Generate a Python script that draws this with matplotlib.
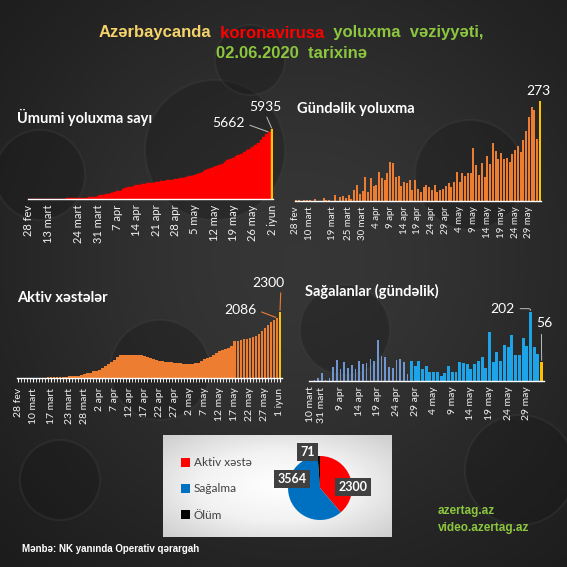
import numpy as np
import pandas as pd
import matplotlib
matplotlib.use('Agg')
from matplotlib import pyplot as plt
from matplotlib.patches import Circle
from matplotlib.colors import LinearSegmentedColormap

# günlər (dd.mm)
early_days = ['28.02', '01.03', '04.03', '05.03', '07.03', '10.03', '12.03']
days = early_days + list(pd.date_range('2020-03-13', '2020-06-02').strftime('%d.%m'))
active_days = days[:-1]
rec_days = ['10.03', '26.03', '29.03', '31.03', '02.04', '04.04', '06.04', '08.04'] + \
    list(pd.date_range('2020-04-09', '2020-06-02').strftime('%d.%m'))

total_cases = [1, 3, 3, 6, 9, 11, 11,
               15, 15, 15, 23, 25, 28, 28, 44, 44, 53, 65, 72, 87, 93, 122, 165, 182, 209, 273,
               298, 359, 400, 443, 521, 584, 641, 717, 822, 926, 991, 1058, 1098, 1148, 1197,
               1253, 1283, 1340, 1373, 1398, 1436, 1480, 1518, 1548, 1592, 1617, 1645, 1678, 1717, 1766,
               1804, 1854, 1932, 1984, 2060, 2127, 2204, 2279, 2422, 2519, 2589, 2693, 2758, 2879, 2980,
               3138, 3274, 3387, 3518, 3631, 3749, 3855, 3982, 4122, 4271, 4403, 4568, 4759, 4989, 5246, 5494,
               5662, 5935]

daily_cases = [1, 2, 0, 3, 3, 2, 0,
               4, 0, 0, 8, 2, 3, 0, 16, 0, 9, 12, 7, 15, 6, 29, 43, 17, 27, 64,
               25, 61, 41, 43, 78, 63, 57, 76, 105, 104, 65, 67, 40, 50, 49,
               56, 30, 57, 33, 25, 38, 44, 38, 30, 44, 25, 28, 33, 39, 49,
               38, 50, 78, 52, 76, 67, 77, 75, 143, 97, 70, 104, 65, 121, 101,
               158, 136, 113, 131, 113, 118, 106, 127, 140, 149, 132, 165, 191, 230, 257, 248,
               168, 273]

active_cases = [1, 3, 3, 6, 9, 11, 11,
                15, 15, 15, 22, 24, 26, 26, 41, 41, 49, 58, 64, 78, 83, 110, 150, 162, 185, 240,
                255, 290, 340, 400, 470, 560, 640, 720, 790, 805, 812, 815, 815, 812, 808,
                800, 760, 730, 700, 660, 620, 595, 585, 570, 555, 540, 525, 520, 510, 500,
                490, 485, 490, 505, 530, 580, 650, 700, 740, 790, 870, 940, 985, 1010, 1050,
                1120, 1290, 1300, 1320, 1345, 1370, 1395, 1430, 1470, 1540, 1640, 1750, 1840, 1930, 2010,
                2086, 2300]

recovered_daily = [1, 3, 8, 22, 3, 10, 40, 61,
                   35, 54, 39, 47, 35, 58, 50, 53, 64, 59, 119, 74, 71, 40, 38, 61, 64, 54, 19, 58,
                   44, 58, 35, 43, 25, 27, 26, 15, 22, 44, 26, 26, 54, 53, 49, 35, 49, 58, 69, 37,
                   143, 55, 84, 58, 104, 99, 134, 76, 76, 124, 102, 202, 99, 78, 56]

cum_ticks = ['28.02', '13.03', '24.03', '31.03', '07.04', '14.04', '21.04', '28.04',
             '05.05', '12.05', '19.05', '26.05', '02.06']
daily_ticks = ['28.02', '10.03', '19.03', '25.03', '30.03', '04.04', '09.04', '14.04', '19.04',
               '24.04', '29.04', '04.05', '09.05', '14.05', '19.05', '24.05', '29.05']
active_ticks = ['28.02', '10.03', '17.03', '23.03', '28.03', '02.04', '07.04', '12.04', '17.04',
                '22.04', '27.04', '02.05', '07.05', '12.05', '17.05', '22.05', '27.05', '01.06']
rec_ticks = ['10.03', '31.03', '09.04', '14.04', '19.04', '24.04', '29.04', '04.05', '09.05',
             '14.05', '19.05', '24.05', '29.05']
months = {'02': 'fev', '03': 'mart', '04': 'apr', '05': 'may', '06': 'iyun'}

pie_labels = ['Aktiv xəstə', 'Sağalma', 'Ölüm']
pie_values = [2300, 3564, 71]

RED = '#ff0000'
ORANGE = '#ed7d31'
GOLD = '#ffc000'
BLUE = '#0070c0'
TXT = '#f2f2f2'
GREEN = '#8cc63f'

W = H = 567
fig = plt.figure(figsize=(5.67, 5.67), dpi=100)
fig.patch.set_facecolor('#2b2b2b')


def px_axes(left, top, right, bottom):
    return fig.add_axes([left / W, 1 - bottom / H, (right - left) / W, (bottom - top) / H])


# fon
bg = px_axes(0, 0, W, H)
bg.set_xlim(0, W)
bg.set_ylim(H, 0)
bg.axis('off')
yy, xx = np.mgrid[0:H:3, 0:W:3]
glow = np.exp(-((xx - 300) ** 2 + (yy - 260) ** 2) / (2 * 260.0 ** 2))
bg_cmap = LinearSegmentedColormap.from_list('bg', ['#1c1c1c', '#363636'])
bg.imshow(glow, cmap=bg_cmap, extent=(0, W, H, 0), aspect='auto')
for cx, cy, r in [(40, 175, 45), (215, 150, 70), (470, 175, 55), (160, 370, 50),
                  (345, 330, 45), (60, 480, 40), (520, 470, 55), (250, 60, 35)]:
    bg.add_patch(Circle((cx, cy), r, fc='#151515', ec='#444444', lw=1.5, alpha=0.3))


def style_axes(ax, day_list, ticks, size):
    ax.set_facecolor('none')
    for s in ['top', 'right', 'left']:
        ax.spines[s].set_visible(False)
    ax.spines['bottom'].set_color('white')
    ax.spines['bottom'].set_linewidth(1)
    ax.set_yticks([])
    pos = [day_list.index(t) for t in ticks]
    labels = ['%d %s' % (int(t[:2]), months[t[3:]]) for t in ticks]
    ax.set_xticks(pos)
    ax.set_xticklabels(labels, rotation=90, fontsize=size, color=TXT, family='Lato')
    ax.tick_params(axis='x', length=0, pad=4)
    ax.set_xlim(-0.5, len(day_list) - 0.5)


def chart_title(x, y, s):
    fig.text(x / W, 1 - y / H, s, color='white', fontsize=10.5, fontweight='bold',
             family='Lato', va='center', ha='left')


# 1. Ümumi yoluxma sayı
ax1 = px_axes(27.6, 100, 273.4, 199)
x1 = np.arange(len(days))
cols1 = [RED] * (len(days) - 1) + [GOLD]
ax1.bar(x1, total_cases, width=1.0, color=cols1, edgecolor=cols1, lw=0.3)
ax1.set_ylim(0, 8400)
style_axes(ax1, days, cum_ticks, 8)
chart_title(17, 117, 'Ümumi yoluxma sayı')
ax1.annotate('5662', xy=(len(days) - 2, total_cases[-2]), xytext=(-41, 9), textcoords='offset pixels',
             color='white', fontsize=10, family='Lato', ha='center', va='center',
             arrowprops=dict(arrowstyle='-', color='#bfbfbf', lw=0.7, relpos=(1, 0.5), shrinkA=2, shrinkB=1))
ax1.annotate('5935', xy=(len(days) - 1, total_cases[-1]), xytext=(-7, 22), textcoords='offset pixels',
             color='white', fontsize=10, family='Lato', ha='center', va='center',
             arrowprops=dict(arrowstyle='-', color='#bfbfbf', lw=0.7, relpos=(0.5, 0), shrinkA=1, shrinkB=1))

# 2. Gündəlik yoluxma
ax2 = px_axes(294.6, 90, 541.4, 200.7)
cols2 = [ORANGE] * (len(days) - 1) + [GOLD]
ax2.bar(x1, daily_cases, width=0.72, color=cols2)
ax2.set_ylim(0, 303)
style_axes(ax2, days, daily_ticks, 7)
chart_title(297, 109, 'Gündəlik yoluxma')
ax2.annotate('273', xy=(len(days) - 1, daily_cases[-1]), xytext=(-2, 10), textcoords='offset pixels',
             color='white', fontsize=10, family='Lato', ha='center', va='center')

# 3. Aktiv xəstələr
ax3 = px_axes(16.5, 290, 281.5, 378)
x3 = np.arange(len(active_days))
cols3 = [ORANGE] * (len(active_days) - 1) + [GOLD]
ax3.bar(x3, active_cases, width=0.88, color=cols3)
ax3.set_ylim(0, 3053)
style_axes(ax3, active_days, active_ticks, 7.5)
ax3.set_xticks(x3, minor=True)
ax3.tick_params(axis='x', which='both', length=3, color='white', direction='out')
chart_title(17, 298, 'Aktiv xəstələr')
ax3.annotate('2086', xy=(len(active_days) - 2, active_cases[-2]), xytext=(-37, 8), textcoords='offset pixels',
             color='white', fontsize=10, family='Lato', ha='center', va='center',
             arrowprops=dict(arrowstyle='-', color=ORANGE, lw=0.8, relpos=(1, 0.5), shrinkA=2, shrinkB=1))
ax3.annotate('2300', xy=(len(active_days) - 1, active_cases[-1]), xytext=(-12, 29), textcoords='offset pixels',
             color='white', fontsize=10, family='Lato', ha='center', va='center',
             arrowprops=dict(arrowstyle='-', color=ORANGE, lw=0.8, relpos=(0.9, 0), shrinkA=1, shrinkB=1))

# 4. Sağalanlar (gündəlik)
ax4 = px_axes(308.9, 300, 543.5, 381)
x4 = np.arange(len(rec_days))
split = rec_days.index('28.04')
cols4 = ['#7096d0'] * split + ['#1ca3e8'] * (len(rec_days) - split - 1) + [GOLD]
widths4 = [0.45] * split + [0.8] * (len(rec_days) - split)
ax4.bar(x4, recovered_daily, width=widths4, color=cols4)
ax4.set_ylim(0, 236)
style_axes(ax4, rec_days, rec_ticks, 7.5)
chart_title(305, 291, 'Sağalanlar (gündəlik)')
imax = recovered_daily.index(max(recovered_daily))
ax4.annotate('202', xy=(imax, recovered_daily[imax]), xytext=(-28, 3), textcoords='offset pixels',
             color='white', fontsize=10, family='Lato', ha='center', va='center',
             arrowprops=dict(arrowstyle='-', color='#bfbfbf', lw=0.7, relpos=(1, 0.5), shrinkA=2, shrinkB=1,
                             connectionstyle='angle,angleA=0,angleB=75,rad=3'))
ax4.annotate('56', xy=(len(rec_days) - 1, recovered_daily[-1]), xytext=(3, 39), textcoords='offset pixels',
             color='white', fontsize=10, family='Lato', ha='center', va='center',
             arrowprops=dict(arrowstyle='-', color='#bfbfbf', lw=0.7, relpos=(0.3, 0), shrinkA=2, shrinkB=1))

# pie paneli
panel = px_axes(163, 435, 392, 537)
py, pxx = np.mgrid[-1:1:60j, -1:1:120j]
shade = np.sqrt(pxx ** 2 + py ** 2)
panel_cmap = LinearSegmentedColormap.from_list('panel', ['#ffffff', '#f2f2f2', '#cfcfcf'])
panel.imshow(shade, cmap=panel_cmap, extent=(0, 1, 0, 1), aspect='auto', vmin=0, vmax=1.4)
panel.axis('off')

axp = px_axes(280, 448, 360, 528)
wedges, _ = axp.pie(pie_values, colors=[RED, BLUE, 'black'], startangle=90, counterclock=False,
                    wedgeprops=dict(lw=0))
axp.set_aspect('equal')
box = dict(boxstyle='square,pad=0.25', fc='#404040', ec='none')
for (lx, ly), v in zip([(1.03, 0.02), (-0.88, 0.28), (-0.38, 1.13)], pie_values):
    axp.text(lx, ly, str(v), color='white', fontsize=9, fontweight='bold', family='Lato',
             ha='center', va='center', bbox=box)
fig.legend(wedges, pie_labels, loc='center left', bbox_to_anchor=(170 / W, 1 - 489 / H),
           frameon=False, labelcolor='#404040', handlelength=0.8, handleheight=0.8,
           handletextpad=0.3, labelspacing=1.3, prop={'family': 'Lato', 'size': 8.5})

# başlıq
renderer = fig.canvas.get_renderer()


def colored_line(parts, y, size):
    texts = []
    for s, c in parts:
        texts.append(fig.text(0, 1 - y / H, s, color=c, fontsize=size, fontweight='bold',
                              family='Liberation Sans', va='center', ha='left'))
    widths = [t.get_window_extent(renderer).width for t in texts]
    x = 291 - sum(widths) / 2
    for t, w in zip(texts, widths):
        t.set_x(x / W)
        x += w


colored_line([('Azərbaycanda', '#f5d36b'), ('  koronavirusa', '#ff0000'),
              ('  yoluxma  vəziyyəti,', GREEN)], 33, 12)
colored_line([('02.06.2020  tarixinə', GREEN)], 53, 12)

fig.text(22 / W, 1 - 549 / H, 'Mənbə: NK yanında Operativ qərargah', color='white', fontsize=7,
         fontweight='bold', family='Liberation Sans', va='center')
fig.text(438 / W, 1 - 511 / H, 'azertag.az', color=GREEN, fontsize=8.5,
         fontweight='bold', family='Liberation Sans', va='center')
fig.text(438 / W, 1 - 528 / H, 'video.azertag.az', color=GREEN, fontsize=8.5,
         fontweight='bold', family='Liberation Sans', va='center')

fig.savefig('out.png', dpi=100, facecolor=fig.get_facecolor())
